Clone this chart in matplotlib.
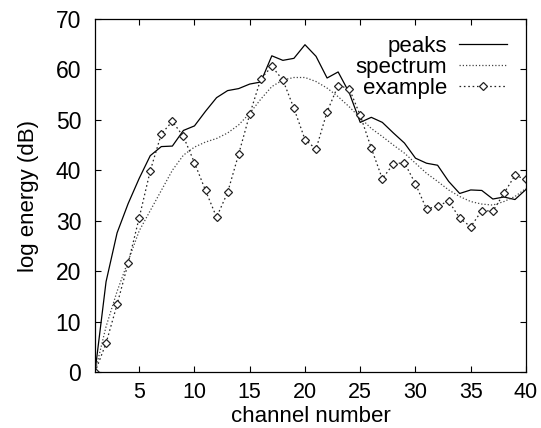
import matplotlib
matplotlib.use("Agg")
import matplotlib.pyplot as plt
import numpy as np

plt.rcParams['font.family'] = ['Liberation Sans', 'DejaVu Sans']

channels = list(range(1, 41))

peaks = [0.0, 17.9, 27.6, 33.4, 38.4, 42.9, 44.7, 44.8, 47.9, 48.8,
         51.7, 54.4, 55.8, 56.2, 57.1, 57.5, 62.7, 61.8, 62.2, 64.9,
         62.6, 58.3, 59.5, 55.4, 49.5, 50.5, 49.5, 47.4, 45.4, 42.4,
         41.4, 41.0, 37.8, 35.4, 36.1, 36.0, 34.3, 34.7, 34.2, 36.2]

spectrum = [0.0, 9.0, 16.0, 22.0, 28.0, 32.0, 36.0, 40.0, 43.0, 44.6,
            45.6, 46.3, 47.4, 49.0, 51.3, 54.1, 56.6, 57.9, 58.4, 58.4,
            57.6, 56.3, 54.6, 52.6, 50.4, 48.3, 46.7, 45.0, 43.4, 41.4,
            39.4, 37.8, 36.1, 34.8, 33.8, 33.3, 33.1, 33.8, 34.8, 36.4]

example = [0.0, 5.7, 13.4, 21.6, 30.6, 39.9, 47.2, 49.7, 46.7, 41.5,
           36.0, 30.7, 35.6, 43.2, 51.1, 58.1, 60.6, 57.9, 52.3, 46.1,
           44.2, 51.6, 56.8, 56.2, 50.9, 44.4, 38.3, 41.3, 41.5, 37.3,
           32.3, 32.9, 33.9, 30.5, 28.8, 32.0, 31.9, 35.4, 39.0, 38.2]

xticks = [5, 10, 15, 20, 25, 30, 35, 40]
yticks = [0, 10, 20, 30, 40, 50, 60, 70]

fig = plt.figure(figsize=(5.41, 4.28), dpi=100)
ax = fig.add_axes([95/541, 1-372/428, (526-95)/541, (372-19)/428])

ax.plot(channels, peaks, color='black', lw=0.9, label='peaks')
ax.plot(channels, spectrum, color='#444444', lw=0.9, linestyle=(0, (1, 1.6)), label='spectrum')
ax.plot(channels, example, color='#222222', lw=0.9, linestyle=(0, (1.3, 2.2)),
        marker='D', markersize=4.2, markerfacecolor='white', markeredgecolor='#222222',
        markeredgewidth=0.9, label='example')

ax.set_xlim(1, 40)
ax.set_ylim(0, 70)
ax.set_xticks(xticks)
ax.set_yticks(yticks)
ax.tick_params(direction='in', length=4, width=0.8, top=True, right=True)
ax.tick_params(axis='x', pad=7.5, labelsize=15.5)
ax.tick_params(axis='y', pad=10, labelsize=16.5)
for s in ax.spines.values():
    s.set_linewidth(0.9)

ax.set_xlabel('channel number', fontsize=16, labelpad=2)
ax.set_ylabel('log energy (dB)', fontsize=16, labelpad=12)

leg = ax.legend(loc='upper right', bbox_to_anchor=(0.956, 0.952), frameon=False,
                markerfirst=False, fontsize=16, handlelength=2.15,
                handletextpad=0.55, labelspacing=0.0, borderpad=0,
                borderaxespad=0, numpoints=1)

fig.savefig('out.png', dpi=100)
